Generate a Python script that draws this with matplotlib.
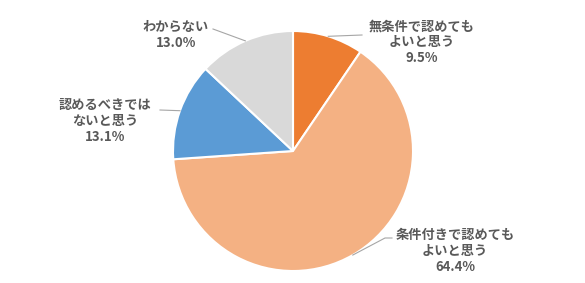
import matplotlib
matplotlib.use("Agg")
import matplotlib.pyplot as plt
import numpy as np

plt.rcParams['font.family'] = ['Noto Sans CJK JP', 'DejaVu Sans']

categories = ["無条件で認めても\nよいと思う", "条件付きで認めても\nよいと思う",
              "認めるべきでは\nないと思う", "わからない"]
values = [9.5, 64.4, 13.1, 13.0]
colors = ["#ED7D31", "#F4B183", "#5B9BD5", "#D9D9D9"]

W, H = 585, 283
fig = plt.figure(figsize=(W / 100, H / 100), dpi=100)
ax = fig.add_axes([0, 0, 1, 1])
ax.set_xlim(0, W)
ax.set_ylim(0, H)
ax.set_aspect('equal')
ax.axis('off')

cx, cy, r = 293, H - 151, 120
wedges, _ = ax.pie(values, colors=colors, startangle=90, counterclock=False,
                   center=(cx, cy), radius=r,
                   wedgeprops=dict(edgecolor='white', linewidth=1.5))
ax.set_xlim(0, W)
ax.set_ylim(0, H)

# label text positions (pixel coords from top) and leader line elbows
label_pos = [(422, 42), (455, 251), (105, 121), (176, 35)]
elbows = [(362, 35), (392, 238), (160, 110), (213, 29)]
ends_h = [(328, 35), (385, 238), (160, 110), (213, 29)]

for i, w in enumerate(wedges):
    ang = np.deg2rad((w.theta1 + w.theta2) / 2)
    ex, ey = cx + r * np.cos(ang), cy + r * np.sin(ang)
    txt = f"{categories[i]}\n{values[i]:.1f}%"
    lx, ly = label_pos[i]
    ax.text(lx, H - ly, txt, ha='center', va='center', fontsize=9.5,
            fontweight='bold', color='#595959', linespacing=1.15)
    # leader line
    if i == 0:
        xs = [ex, elbows[i][0]]
        ys = [ey, H - elbows[i][1]]
    elif i == 1:
        xs = [ex, ends_h[i][0], elbows[i][0]]
        ys = [ey, H - ends_h[i][1], H - elbows[i][1]]
    else:
        xs = [ex, elbows[i][0]]
        ys = [ey, H - elbows[i][1]]
    ax.plot(xs, ys, color='#A6A6A6', linewidth=0.8)

fig.savefig("out.png", dpi=100)
